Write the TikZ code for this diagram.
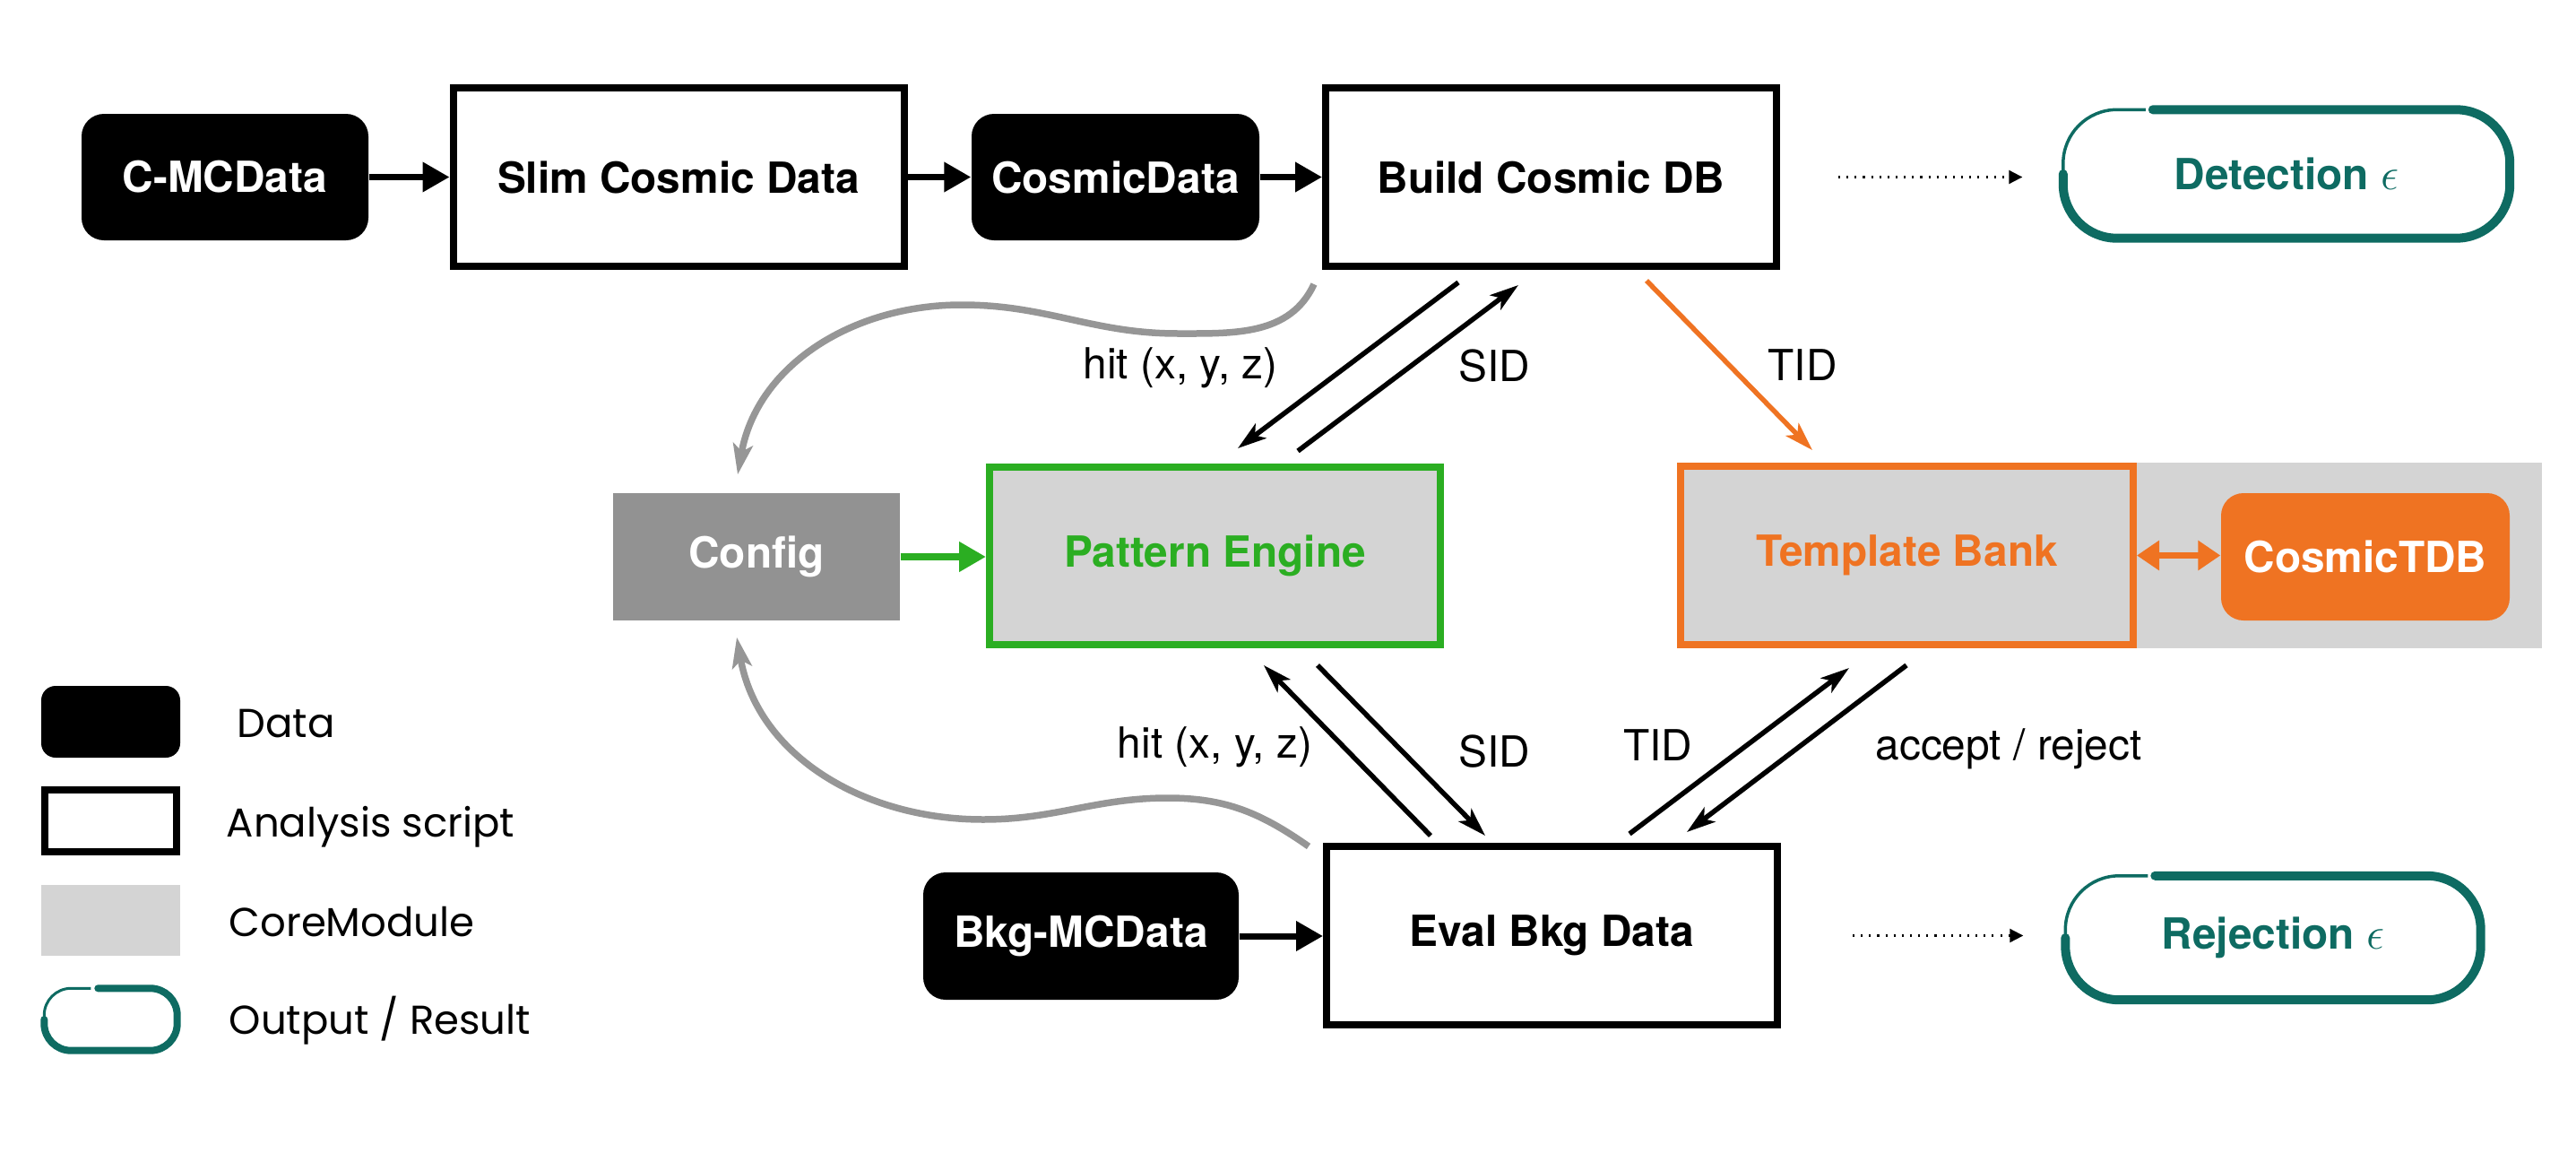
\documentclass[tikz,border=0pt]{standalone}
\usepackage{fontspec}
\setmainfont{TeX Gyre Heros}
\newfontfamily\legendfont{Poppins}
\usetikzlibrary{calc,arrows.meta}
\definecolor{outteal}{HTML}{0E6B62}
\definecolor{pegreen}{HTML}{2BAE22}
\definecolor{tborange}{HTML}{EF7322}
\definecolor{coregray}{HTML}{D4D4D4}
\definecolor{cfggray}{HTML}{929292}
\definecolor{curvegray}{HTML}{969696}
\newcommand\nodefont{\bfseries\fontsize{13.6}{16}\selectfont}
\newcommand\lblfont{\fontsize{13.6}{16}\selectfont}
\def\brushline(#1:#2:#3:#4:#5){%
	\draw[outteal, line width=#3, rounded corners=#2, line cap=round] ($(#1.north west)+(#4,0)$) -- (#1.north east) -- (#1.south east) -- (#1.south west) -- (#1.west);
	\draw[outteal, line width=#5, rounded corners=#2] (#1.west) -- (#1.north west) -- ($(#1.north west)+(#4,0)+(-0.08,0)$);}

\begin{document}
\begin{tikzpicture}[
	data/.style={fill=black, text=white, rounded corners=0.25cm, minimum width=3.2cm, minimum height=1.41cm, inner sep=0.1cm, font=\nodefont},
	script/.style={draw=black, fill=white, line width=0.08cm, minimum width=5.03cm, minimum height=1.99cm, font=\nodefont},
	core/.style={script, fill=coregray},
	result/.style={minimum width=4.97cm, minimum height=1.42cm, text=outteal, font=\nodefont},
	lbl/.style={font=\lblfont},
	legendtext/.style={anchor=west, inner sep=0pt, font=\legendfont\fontsize{12.8}{15}\selectfont},
	flow/.style={line width=0.07cm, -{Triangle[length=0.3cm,width=0.32cm]}},
	link/.style={line width=0.055cm, -{Stealth[length=0.32cm,width=0.2cm,inset=0.08cm]}},
	feed/.style={curvegray, line width=0.075cm, -{Stealth[length=0.34cm,width=0.22cm,inset=0.08cm]}},
	outarrow/.style={dotted, line width=0.6pt, -{Triangle[length=0.15cm,width=0.15cm]}}]
			%%%%% START %%%%%
			\useasboundingbox (0,-12.96) rectangle (28.74,0);
			
			% top row
			\node[data] (cmc) at (2.51,-1.975) {C-MCData};
			\node[script] (slim) at (7.57,-1.975) {Slim Cosmic Data};
			\node[data, minimum width=3.21cm] (cdata) at (12.445,-1.975) {CosmicData};
			\node[script] (build) at (17.305,-1.975) {Build Cosmic DB};
			\node[result] (detect) at (25.51,-1.94) {Detection $\epsilon$};
			\brushline(detect:0.6cm:0.1cm:1.0cm:0.035cm)
			
			% middle row
			\node[fill=cfggray, text=white, minimum width=3.2cm, minimum height=1.42cm, font=\nodefont] (config) at (8.44,-6.21) {Config};
			\node[core, draw=pegreen, text=pegreen, minimum height=1.98cm] (pattern) at (13.555,-6.20) {Pattern Engine};
			\fill[coregray] (23.80,-5.16) rectangle (28.36,-7.23);
			\node[core, draw=tborange, text=tborange, minimum width=5.05cm] (tbank) at (21.275,-6.195) {Template Bank};
			\node[data, fill=tborange, minimum width=3.22cm, minimum height=1.42cm] (ctdb) at (26.39,-6.21) {CosmicTDB};
			
			% bottom row
			\node[data, minimum width=3.52cm, minimum height=1.42cm] (bkg) at (12.06,-10.44) {Bkg-MCData};
			\node[script] (eval) at (17.315,-10.435) {Eval Bkg Data};
			\node[result, minimum width=4.62cm, minimum height=1.37cm] (reject) at (25.36,-10.46) {Rejection $\epsilon$};
			\brushline(reject:0.6cm:0.1cm:1.0cm:0.035cm)
			
			% flow
			\draw[flow] (cmc) -- (slim);
			\draw[flow] (slim) -- (cdata);
			\draw[flow] (cdata) -- (build);
			\draw[flow] (bkg.east) -- (bkg.east -| eval.west);
			\draw[flow, pegreen, line width=0.08cm] (config.east) -- (config.east -| pattern.west);
			\draw[tborange, line width=0.07cm, {Triangle[length=0.25cm,width=0.32cm]}-{Triangle[length=0.25cm,width=0.32cm]}] (tbank.east) -- (tbank.east -| ctdb.west);
			\draw[outarrow, shorten <=0.65cm, shorten >=0.455cm] (build.east) -- (build.east -| detect.west);
			\draw[outarrow, shorten <=0.80cm, shorten >=0.47cm] (eval.east) -- (eval.east -| reject.west);
			
			\draw[link] ($(build.south)+(-1.035,-0.14)$) -- ($(pattern.north)+(0.255,0.17)$);
			\draw[link] ($(pattern.north)+(0.925,0.14)$) -- ($(build.south)+(-0.365,-0.17)$);
			\draw[link, tborange] ($(build.south)+(1.065,-0.12)$) -- ($(tbank.north)+(-1.055,0.14)$);
			\draw[link] ($(eval.north)+(-1.355,0.08)$) -- ($(pattern.south)+(0.545,-0.19)$);
			\draw[link] ($(pattern.south)+(1.145,-0.19)$) -- ($(eval.north)+(-0.745,0.08)$);
			\draw[link] ($(eval.north)+(0.865,0.10)$) -- ($(tbank.south)+(-0.645,-0.22)$);
			\draw[link] ($(tbank.south)+(-0.005,-0.19)$) -- ($(eval.north)+(1.505,0.12)$);
			
			\draw[feed] ($(build.south west)+(-0.09,-0.16)$) to[out=-115,in=0] (13.14,-3.72) to[out=180,in=0] (10.73,-3.40) to[out=180,in=80] ($(config.north)+(-0.21,0.2)$);
			\draw[feed] ($(eval.north west)+(-0.16,-0.04)$) to[out=145,in=0] (13.03,-8.90) to[out=180,in=0] (10.97,-9.14) to[out=180,in=-80] ($(config.south)+(-0.22,-0.18)$);
			
			% labels
			\node[lbl] (hitup) at (13.17,-4.10) {hit (x, y, z)};
			\node[lbl] (sidup) at (16.675,-4.08) {SID};
			\node[lbl] (tidup) at (20.11,-4.07) {TID};
			\node[lbl] (hitdown) at (13.555,-8.33) {hit (x, y, z)};
			\node[lbl] (siddown) at (16.675,-8.38) {SID};
			\node[lbl] (tiddown) at (18.495,-8.31) {TID};
			\node[lbl] (accrej) at (22.41,-8.35) {accept / reject};
			
			% legend
			\node[fill=black, rounded corners=0.16cm, minimum width=1.55cm, minimum height=0.8cm] (legdata) at (1.235,-8.05) {};
			\node[draw=black, line width=0.08cm, minimum width=1.47cm, minimum height=0.69cm] (legscript) at (1.235,-9.155) {};
			\node[fill=coregray, minimum width=1.55cm, minimum height=0.79cm] (legcore) at (1.235,-10.265) {};
			\node[minimum width=1.47cm, minimum height=0.68cm] (legout) at (1.235,-11.37) {};
			\brushline(legout:0.3cm:0.08cm:0.6cm:0.03cm)
			\node[legendtext] (legdatatext) at (2.64,-8.07) {Data};
			\node[legendtext] (legscripttext) at (2.52,-9.22) {Analysis script};
			\node[legendtext] (legcoretext) at (2.55,-10.28) {CoreModule};
			\node[legendtext] (legouttext) at (2.55,-11.38) {Output / Result};
			%%%%% END %%%%%
\end{tikzpicture}
\end{document}
